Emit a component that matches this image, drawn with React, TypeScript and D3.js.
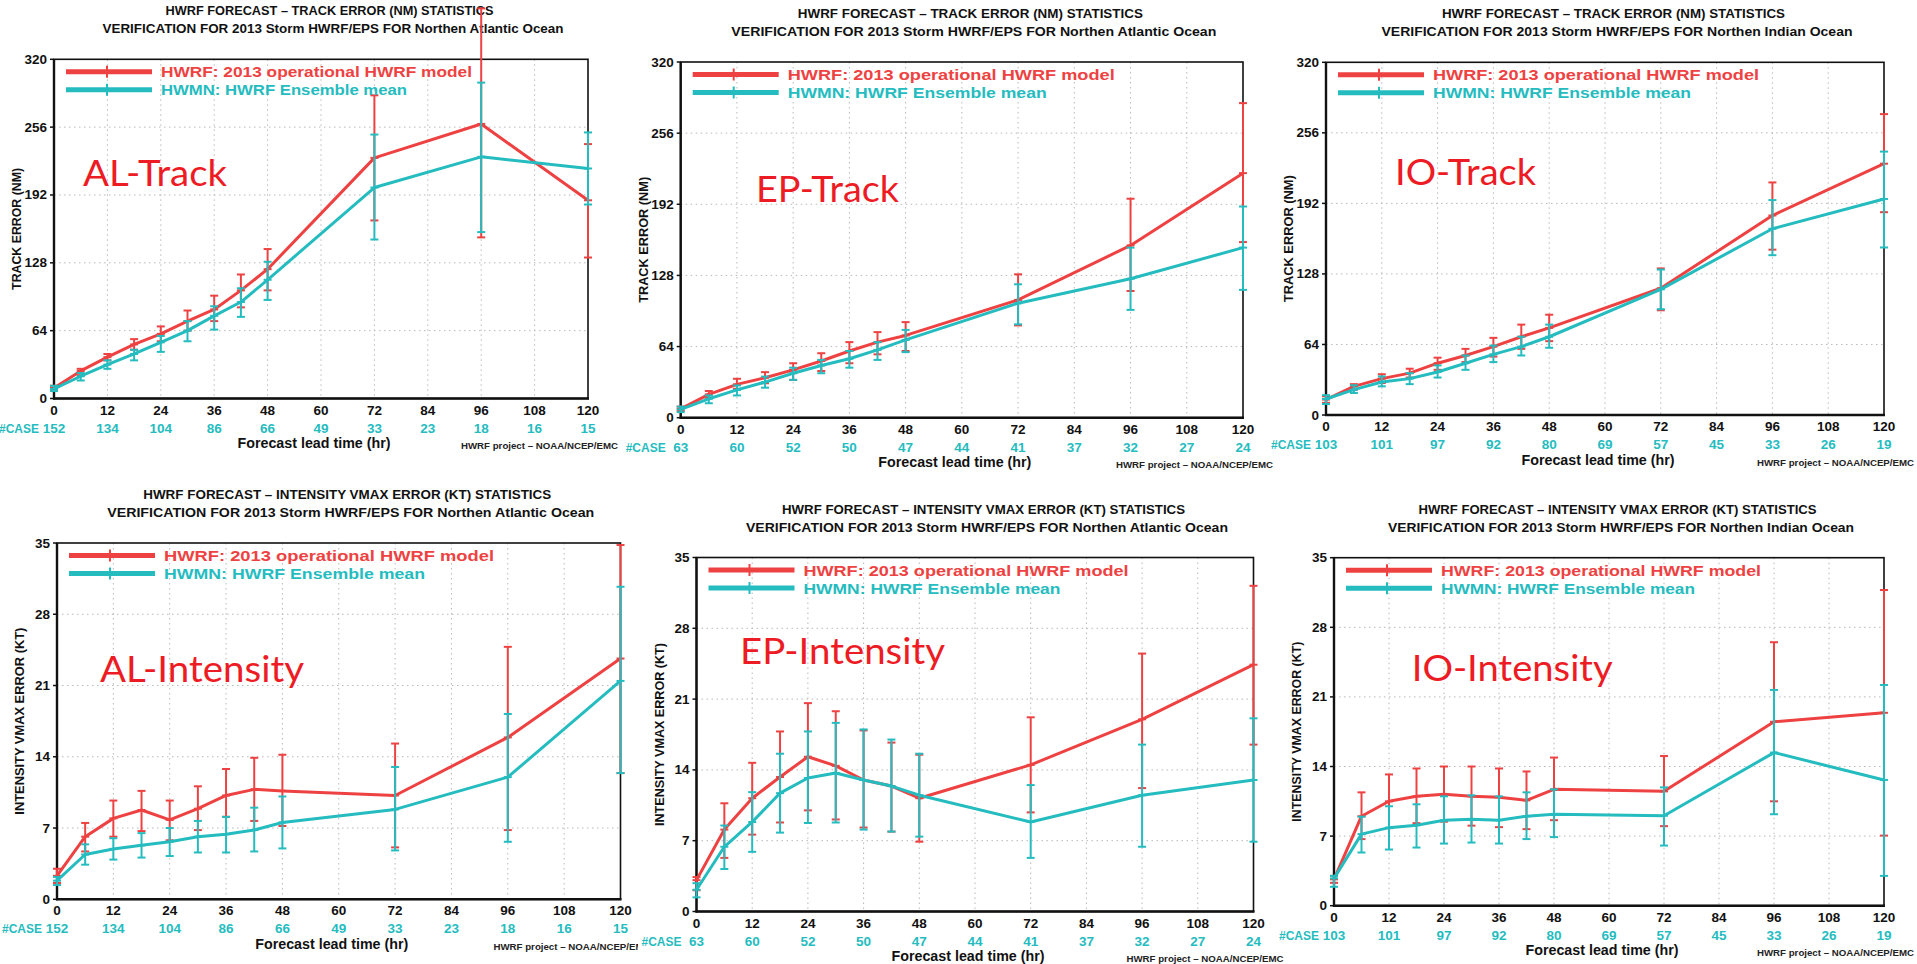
import React from 'react';
import * as d3 from 'd3';

const W = 1917;
const H = 964;

const HOURS = [0, 6, 12, 18, 24, 30, 36, 42, 48, 72, 96, 120];
const X_TICKS = [0, 12, 24, 36, 48, 60, 72, 84, 96, 108, 120];
const TRACK_TICKS = [0, 64, 128, 192, 256, 320];
const VMAX_TICKS = [0, 7, 14, 21, 28, 35];

const AL_CASES = [152, 134, 104, 86, 66, 49, 33, 23, 18, 16, 15];
const EP_CASES = [63, 60, 52, 50, 47, 44, 41, 37, 32, 27, 24];
const IO_CASES = [103, 101, 97, 92, 80, 69, 57, 45, 33, 26, 19];

// track error (NM)
const AL_TRACK_HWRF = [10, 26, 39, 51, 61, 73, 84, 102, 122, 227, 259, 187];
const AL_TRACK_HWRF_LO = [8, 22, 36, 46, 54, 64, 73, 86, 102, 168, 152, 133];
const AL_TRACK_HWRF_HI = [12, 28, 42, 56, 68, 83, 97, 117, 141, 286, 368, 240];
const AL_TRACK_HWMN = [9, 21, 32, 42, 53, 64, 78, 91, 112, 199, 228, 217];
const AL_TRACK_HWMN_LO = [7, 17, 28, 36, 44, 54, 65, 77, 93, 150, 157, 183];
const AL_TRACK_HWMN_HI = [12, 24, 36, 46, 59, 73, 87, 104, 129, 249, 298, 251];

const EP_TRACK_HWRF = [8, 21, 30, 36, 43, 51, 60, 68, 74, 106, 155, 220];
const EP_TRACK_HWRF_LO = [6, 18, 26, 31, 34, 42, 49, 57, 60, 83, 114, 158];
const EP_TRACK_HWRF_HI = [10, 24, 35, 41, 49, 58, 68, 77, 86, 129, 197, 283];
const EP_TRACK_HWMN = [7.5, 17, 25, 32, 40, 47, 53, 61, 70, 103, 125, 153];
const EP_TRACK_HWMN_LO = [5, 13, 20, 27, 34, 40, 45, 52, 59, 84, 97, 115];
const EP_TRACK_HWMN_HI = [10, 20, 29, 37, 45, 52, 60, 68, 79, 120, 153, 190];

const IO_TRACK_HWRF = [14, 26, 33, 38, 47, 54, 62, 71, 79, 115, 181, 228];
const IO_TRACK_HWRF_LO = [11, 23, 29, 34, 41, 48, 53, 60, 67, 95, 150, 184];
const IO_TRACK_HWRF_HI = [17, 28, 37, 42, 52, 60, 70, 82, 91, 133, 211, 273];
const IO_TRACK_HWMN = [14.5, 23, 30, 33, 39, 47, 55, 62, 71, 114, 169, 196];
const IO_TRACK_HWMN_LO = [10, 20, 26, 28, 34, 41, 48, 54, 61, 96, 145, 152];
const IO_TRACK_HWMN_HI = [18, 27, 35, 38, 45, 54, 63, 71, 82, 132, 195, 239];

// intensity vmax error (KT)
const AL_VMAX_HWRF = [2.3, 6.15, 7.95, 8.77, 7.8, 8.9, 10.2, 10.8, 10.65, 10.2, 15.9, 23.65];
const AL_VMAX_HWRF_LO = [1.6, 4.7, 6.15, 6.7, 5.8, 6.8, 8.1, 7.7, 7.2, 5.1, 6.8, 12.4];
const AL_VMAX_HWRF_HI = [3.0, 7.5, 9.7, 10.65, 9.7, 11.1, 12.8, 13.9, 14.2, 15.3, 24.8, 34.8];
const AL_VMAX_HWMN = [1.83, 4.4, 4.95, 5.3, 5.65, 6.15, 6.4, 6.8, 7.55, 8.83, 12.0, 21.45];
const AL_VMAX_HWMN_LO = [1.4, 3.4, 3.9, 4.1, 4.25, 4.6, 4.6, 4.7, 5.0, 4.8, 5.65, 12.4];
const AL_VMAX_HWMN_HI = [2.2, 5.4, 6.0, 6.5, 7.0, 7.7, 8.1, 9.0, 10.1, 13.0, 18.2, 30.7];

const EP_VMAX_HWRF = [3.1, 8.1, 11.2, 13.3, 15.3, 14.4, 13.0, 12.4, 11.2, 14.5, 19.0, 24.4];
const EP_VMAX_HWRF_LO = [2.1, 5.3, 7.6, 8.8, 10.0, 9.1, 8.3, 7.9, 6.9, 9.8, 12.2, 16.5];
const EP_VMAX_HWRF_HI = [3.4, 10.7, 14.7, 17.8, 20.6, 19.8, 17.9, 16.7, 15.5, 19.2, 25.5, 32.2];
const EP_VMAX_HWMN = [2.15, 6.4, 8.85, 11.7, 13.2, 13.7, 13.0, 12.4, 11.5, 8.85, 11.5, 13.0];
const EP_VMAX_HWMN_LO = [1.4, 4.2, 5.9, 7.8, 8.75, 8.8, 8.1, 7.9, 7.4, 5.3, 6.4, 6.9];
const EP_VMAX_HWMN_HI = [2.8, 8.5, 11.8, 15.6, 17.8, 18.65, 18.0, 17.0, 15.6, 12.5, 16.5, 19.1];

const IO_VMAX_HWRF = [2.65, 9.0, 10.5, 11.0, 11.2, 11.0, 10.9, 10.6, 11.7, 11.5, 18.5, 19.4];
const IO_VMAX_HWRF_LO = [2.3, 6.7, 7.8, 8.3, 8.45, 8.05, 7.9, 7.7, 8.6, 8.0, 10.5, 7.05];
const IO_VMAX_HWRF_HI = [3.0, 11.4, 13.2, 13.8, 14.0, 14.0, 13.8, 13.5, 14.9, 15.05, 26.5, 31.75];
const IO_VMAX_HWMN = [2.75, 7.2, 7.85, 8.1, 8.6, 8.7, 8.6, 9.0, 9.2, 9.05, 15.4, 12.65];
const IO_VMAX_HWMN_LO = [1.9, 5.35, 5.65, 5.85, 6.25, 6.35, 6.25, 6.7, 6.9, 6.05, 9.2, 3.0];
const IO_VMAX_HWMN_HI = [3.0, 8.95, 10.0, 10.2, 11.0, 11.1, 11.0, 11.4, 11.7, 11.9, 21.7, 22.2];

const RED = '#ee4242';
const CYAN = '#25bcc0';
const TAG_RED = '#ed1c24';
const FONT = "'Liberation Sans', Arial, sans-serif";

const TRACK_TITLE = 'HWRF FORECAST \u2013 TRACK ERROR (NM) STATISTICS';
const VMAX_TITLE = 'HWRF FORECAST \u2013 INTENSITY VMAX ERROR (KT) STATISTICS';
const SUB_ATL = 'VERIFICATION FOR 2013 Storm HWRF/EPS FOR Northen Atlantic Ocean';
const SUB_IND = 'VERIFICATION FOR 2013 Storm HWRF/EPS FOR Northen Indian Ocean';
const LEGEND_RED = 'HWRF: 2013 operational HWRF model';
const LEGEND_CYAN = 'HWMN: HWRF Ensemble mean';

type Series = { mean: number[]; lo: number[]; hi: number[] };
type PanelCfg = {
  id: string;
  box: { l: number; r: number; t: number; b: number };
  title: string;
  sub: string;
  titleW: [number, number];
  legendW: [number, number];
  yLabel: string;
  yLabelW: number;
  yTicks: number[];
  cases: number[];
  hwrf: Series;
  hwmn: Series;
  tag: { text: string; x: number; y: number; w: number };
  footClip?: number;
};

const PANELS: PanelCfg[] = [
  {
    id: 'al-track', box: { l: 54, r: 588, t: 59.3, b: 398.5 },
    title: TRACK_TITLE, sub: SUB_ATL, titleW: [328, 461], legendW: [311, 246],
    yLabel: 'TRACK ERROR (NM)', yLabelW: 122, yTicks: TRACK_TICKS, cases: AL_CASES,
    hwrf: { mean: AL_TRACK_HWRF, lo: AL_TRACK_HWRF_LO, hi: AL_TRACK_HWRF_HI },
    hwmn: { mean: AL_TRACK_HWMN, lo: AL_TRACK_HWMN_LO, hi: AL_TRACK_HWMN_HI },
    tag: { text: 'AL-Track', x: 83, y: 186, w: 144 },
  },
  {
    id: 'ep-track', box: { l: 680.7, r: 1243, t: 62, b: 417.7 },
    title: TRACK_TITLE, sub: SUB_ATL, titleW: [345, 485], legendW: [327, 259],
    yLabel: 'TRACK ERROR (NM)', yLabelW: 126, yTicks: TRACK_TICKS, cases: EP_CASES,
    hwrf: { mean: EP_TRACK_HWRF, lo: EP_TRACK_HWRF_LO, hi: EP_TRACK_HWRF_HI },
    hwmn: { mean: EP_TRACK_HWMN, lo: EP_TRACK_HWMN_LO, hi: EP_TRACK_HWMN_HI },
    tag: { text: 'EP-Track', x: 756, y: 201.7, w: 143 },
  },
  {
    id: 'io-track', box: { l: 1326, r: 1884, t: 62.3, b: 415 },
    title: TRACK_TITLE, sub: SUB_IND, titleW: [343, 471], legendW: [326, 258],
    yLabel: 'TRACK ERROR (NM)', yLabelW: 127, yTicks: TRACK_TICKS, cases: IO_CASES,
    hwrf: { mean: IO_TRACK_HWRF, lo: IO_TRACK_HWRF_LO, hi: IO_TRACK_HWRF_HI },
    hwmn: { mean: IO_TRACK_HWMN, lo: IO_TRACK_HWMN_LO, hi: IO_TRACK_HWMN_HI },
    tag: { text: 'IO-Track', x: 1395, y: 185, w: 141 },
  },
  {
    id: 'al-vmax', box: { l: 57, r: 620.5, t: 543, b: 899.3 },
    title: VMAX_TITLE, sub: SUB_ATL, titleW: [408, 487], legendW: [330, 261],
    yLabel: 'INTENSITY VMAX ERROR (KT)', yLabelW: 187, yTicks: VMAX_TICKS, cases: AL_CASES,
    hwrf: { mean: AL_VMAX_HWRF, lo: AL_VMAX_HWRF_LO, hi: AL_VMAX_HWRF_HI },
    hwmn: { mean: AL_VMAX_HWMN, lo: AL_VMAX_HWMN_LO, hi: AL_VMAX_HWMN_HI },
    tag: { text: 'AL-Intensity', x: 100, y: 681.7, w: 204 },
    footClip: 638,
  },
  {
    id: 'ep-vmax', box: { l: 696.5, r: 1253.5, t: 557.5, b: 911.5 },
    title: VMAX_TITLE, sub: SUB_ATL, titleW: [403, 482], legendW: [325, 257],
    yLabel: 'INTENSITY VMAX ERROR (KT)', yLabelW: 183, yTicks: VMAX_TICKS, cases: EP_CASES,
    hwrf: { mean: EP_VMAX_HWRF, lo: EP_VMAX_HWRF_LO, hi: EP_VMAX_HWRF_HI },
    hwmn: { mean: EP_VMAX_HWMN, lo: EP_VMAX_HWMN_LO, hi: EP_VMAX_HWMN_HI },
    tag: { text: 'EP-Intensity', x: 740, y: 664, w: 205 },
  },
  {
    id: 'io-vmax', box: { l: 1334, r: 1884, t: 557.7, b: 905.7 },
    title: VMAX_TITLE, sub: SUB_IND, titleW: [398, 466], legendW: [320, 254],
    yLabel: 'INTENSITY VMAX ERROR (KT)', yLabelW: 180, yTicks: VMAX_TICKS, cases: IO_CASES,
    hwrf: { mean: IO_VMAX_HWRF, lo: IO_VMAX_HWRF_LO, hi: IO_VMAX_HWRF_HI },
    hwmn: { mean: IO_VMAX_HWMN, lo: IO_VMAX_HWMN_LO, hi: IO_VMAX_HWMN_HI },
    tag: { text: 'IO-Intensity', x: 1411.7, y: 681, w: 201 },
  },
];

function Bars({ s, color, x, y }: { s: Series; color: string; x: any; y: any }) {
  const cap = 4;
  return (
    <g stroke={color} strokeWidth={2} fill="none">
      {HOURS.map((h, i) => {
        const px = x(h);
        return (
          <g key={h}>
            <line x1={px} x2={px} y1={y(s.lo[i])} y2={y(s.hi[i])} />
            <line x1={px - cap} x2={px + cap} y1={y(s.lo[i])} y2={y(s.lo[i])} />
            <line x1={px - cap} x2={px + cap} y1={y(s.hi[i])} y2={y(s.hi[i])} />
            <line x1={px - cap} x2={px + cap} y1={y(s.mean[i])} y2={y(s.mean[i])} />
          </g>
        );
      })}
    </g>
  );
}

function Panel({ p }: { p: PanelCfg }) {
  const { l, r, t, b } = p.box;
  const yMax = p.yTicks[p.yTicks.length - 1];
  const x = d3.scaleLinear().domain([0, 120]).range([l, r]);
  const y = d3.scaleLinear().domain([0, yMax]).range([b, t]);
  const line = d3.line<number>().x((_, i) => x(HOURS[i])).y((v) => y(v));
  const cx = (l + r) / 2;
  const legendRows = [
    { text: LEGEND_RED, color: RED, w: p.legendW[0], dy: 12.5 },
    { text: LEGEND_CYAN, color: CYAN, w: p.legendW[1], dy: 30.5 },
  ];
  const footX = r - 127;

  return (
    <g>
      <text x={cx + 8.5} y={t - 48} textAnchor="middle" dominantBaseline="central"
        fontSize={12.5} fontWeight="bold" fill="#111" textLength={p.titleW[0]} lengthAdjust="spacingAndGlyphs">
        {p.title}
      </text>
      <text x={cx + 12} y={t - 30} textAnchor="middle" dominantBaseline="central"
        fontSize={12.5} fontWeight="bold" fill="#111" textLength={p.titleW[1]} lengthAdjust="spacingAndGlyphs">
        {p.sub}
      </text>

      <g stroke="#b8b8b8" strokeWidth={1} strokeDasharray="1.5 3.5">
        {X_TICKS.slice(1, -1).map((h) => (
          <line key={'gx' + h} x1={x(h)} x2={x(h)} y1={t} y2={b} />
        ))}
        {p.yTicks.slice(1, -1).map((v) => (
          <line key={'gy' + v} x1={l} x2={r} y1={y(v)} y2={y(v)} />
        ))}
      </g>

      <rect x={l} y={t} width={r - l} height={b - t} fill="none" stroke="#111" strokeWidth={1.6} />
      <line x1={l} x2={l} y1={t} y2={b + 1} stroke="#111" strokeWidth={2.4} />
      <line x1={l - 1} x2={r + 1} y1={b} y2={b} stroke="#111" strokeWidth={2.4} />

      {p.yTicks.map((v) => (
        <g key={'yt' + v}>
          <line x1={l - 4} x2={l} y1={y(v)} y2={y(v)} stroke="#111" strokeWidth={1.5} />
          <text x={l - 7} y={y(v)} textAnchor="end" dominantBaseline="central" fontSize={13.5} fontWeight="bold" fill="#111">
            {v}
          </text>
        </g>
      ))}
      {X_TICKS.map((h) => (
        <text key={'xt' + h} x={x(h)} y={b + 11.5} textAnchor="middle" dominantBaseline="central" fontSize={13.5} fontWeight="bold" fill="#111">
          {h}
        </text>
      ))}

      <text transform={`translate(${l - 37.5},${(t + b) / 2}) rotate(-90)`} textAnchor="middle" dominantBaseline="central"
        fontSize={13} fontWeight="bold" fill="#111" textLength={p.yLabelW} lengthAdjust="spacingAndGlyphs">
        {p.yLabel}
      </text>

      <Bars s={p.hwrf} color={RED} x={x} y={y} />
      <path d={line(p.hwrf.mean) || ''} fill="none" stroke={RED} strokeWidth={3} strokeLinejoin="round" />
      <Bars s={p.hwmn} color={CYAN} x={x} y={y} />
      <path d={line(p.hwmn.mean) || ''} fill="none" stroke={CYAN} strokeWidth={3} strokeLinejoin="round" />

      {legendRows.map((row) => (
        <g key={row.text}>
          <line x1={l + 12} x2={l + 98} y1={t + row.dy} y2={t + row.dy} stroke={row.color} strokeWidth={5} />
          <line x1={l + 53} x2={l + 53} y1={t + row.dy - 6} y2={t + row.dy + 6} stroke={row.color} strokeWidth={2} />
          <text x={l + 107} y={t + row.dy} dominantBaseline="central" fontSize={15.5} fontWeight="bold" fill={row.color}
            textLength={row.w} lengthAdjust="spacingAndGlyphs">
            {row.text}
          </text>
        </g>
      ))}

      <text x={p.tag.x} y={p.tag.y} fontFamily="Lato, 'Open Sans', sans-serif" fontSize={37} fill={TAG_RED}
        textLength={p.tag.w} lengthAdjust="spacingAndGlyphs">
        {p.tag.text}
      </text>

      <text x={l - 15} y={b + 29.5} textAnchor="end" dominantBaseline="central" fontSize={13.5} fontWeight="bold" fill={CYAN}
        textLength={40} lengthAdjust="spacingAndGlyphs">
        #CASE
      </text>
      {X_TICKS.map((h, i) => (
        <text key={'c' + h} x={x(h)} y={b + 29.5} textAnchor="middle" dominantBaseline="central" fontSize={13.5} fontWeight="bold" fill={CYAN}>
          {p.cases[i]}
        </text>
      ))}

      <text x={cx - 7} y={b + 44.5} textAnchor="middle" dominantBaseline="central" fontSize={14} fontWeight="bold" fill="#111"
        textLength={153} lengthAdjust="spacingAndGlyphs">
        Forecast lead time (hr)
      </text>
      <text x={footX} y={b + 47} dominantBaseline="central" fontSize={9.5} fontWeight="bold" fill="#222"
        textLength={157} lengthAdjust="spacingAndGlyphs"
        clipPath={p.footClip ? `url(#clip-${p.id})` : undefined}>
        HWRF project {'\u2013'} NOAA/NCEP/EMC
      </text>
    </g>
  );
}

export default function App() {
  return (
    <svg width={W} height={H} style={{ position: 'absolute', left: 0, top: 0, background: '#fff' }} fontFamily={FONT}>
      <defs>
        {PANELS.filter((p) => p.footClip).map((p) => (
          <clipPath key={p.id} id={`clip-${p.id}`}>
            <rect x={0} y={0} width={p.footClip} height={H} />
          </clipPath>
        ))}
      </defs>
      <rect x={0} y={0} width={W} height={H} fill="#fff" />
      {PANELS.map((p) => (
        <Panel key={p.id} p={p} />
      ))}
    </svg>
  );
}
